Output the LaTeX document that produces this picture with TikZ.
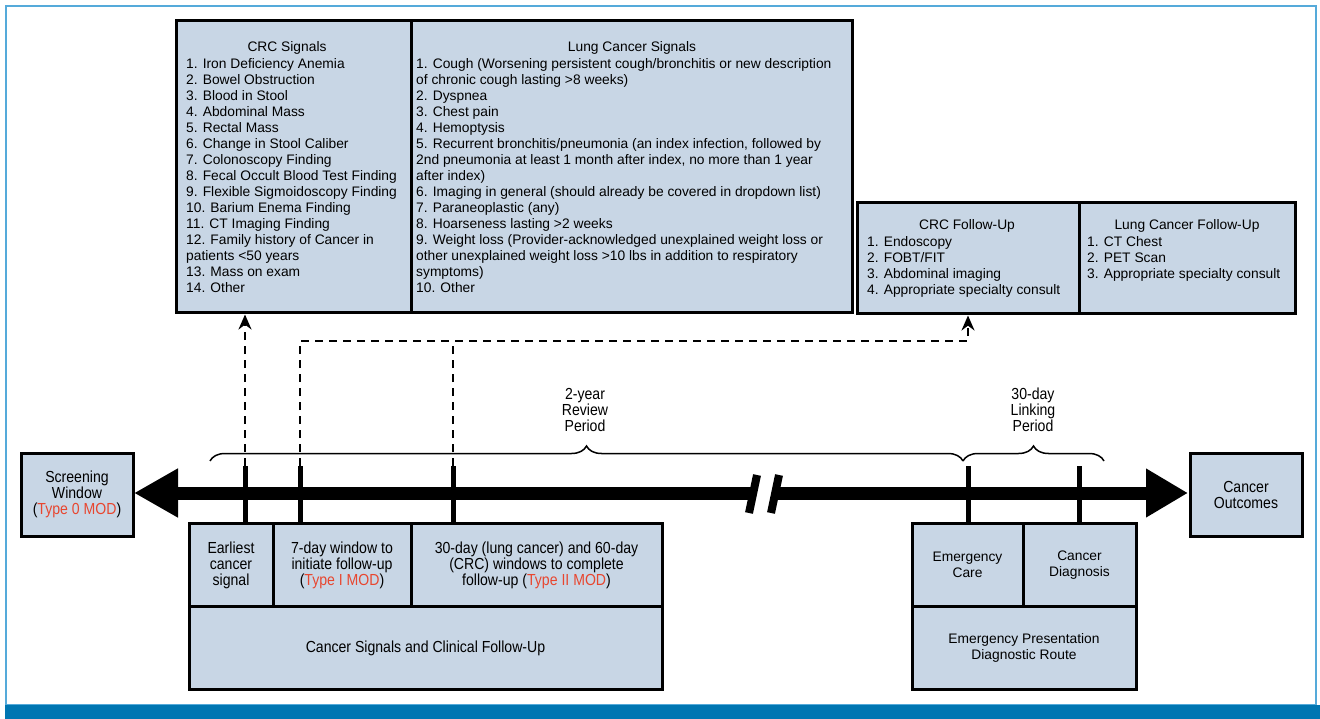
\documentclass[tikz,border=0pt]{standalone}
\usepackage{fontspec}
\setmainfont{Liberation Sans}
\newfontfamily\narrowfont{Liberation Sans}[FakeStretch=0.88]
\usetikzlibrary{arrows.meta,decorations.pathreplacing}

\definecolor{boxfill}{HTML}{C8D6E5}
\definecolor{modred}{HTML}{E8462F}
\definecolor{frameblue}{HTML}{55AADA}
\definecolor{barblue}{HTML}{0076B2}

\tikzset{
  box/.style={draw=black, line width=3pt, fill=boxfill, inner sep=0pt, align=center,
    font=\fontsize{13.8}{16}\selectfont},
  narrowbox/.style={box, font=\narrowfont\fontsize{16}{16}\selectfont},
  listtext/.style={anchor=north west, inner sep=0pt, align=left, font=\fontsize{13.8}{16}\selectfont},
  titletext/.style={inner sep=0pt, font=\fontsize{13.8}{16}\selectfont},
  narrowtext/.style={inner sep=0pt, align=center, font=\narrowfont\fontsize{16}{16}\selectfont},
  tickmark/.style={line width=5pt},
  dashline/.style={line width=2.2pt, dash pattern=on 8pt off 6pt},
  period/.style={decorate, decoration={brace, amplitude=15pt}, line width=1.5pt}
}
\newcommand{\mod}[1]{\textcolor{modred}{#1}}

\begin{document}
\begin{tikzpicture}[x=1pt,y=-1pt]
\useasboundingbox (0,0) rectangle (1320,719);

% frame and bottom bar
\draw[frameblue, line width=1.5pt] (6,6) rectangle (1316,705);
\fill[barblue] (5,705) rectangle (1320,719);

% signal lists
\node[box, minimum width=235, minimum height=292] (crc) at (293.5,167) {};
\node[box, minimum width=441, minimum height=292] (lung) at (631.5,167) {};
\node[titletext] (crctitle) at (287,48) {CRC Signals};
\node[titletext] (lungtitle) at (632,48) {Lung Cancer Signals};
\node[listtext] (crclist) at (186,58) {1. Iron Deficiency Anemia\\
2. Bowel Obstruction\\
3. Blood in Stool\\
4. Abdominal Mass\\
5. Rectal Mass\\
6. Change in Stool Caliber\\
7. Colonoscopy Finding\\
8. Fecal Occult Blood Test Finding\\
9. Flexible Sigmoidoscopy Finding\\
10. Barium Enema Finding\\
11. CT Imaging Finding\\
12. Family history of Cancer in\\
patients <50 years\\
13. Mass on exam\\
14. Other};
\node[listtext] (lunglist) at (416,58) {1. Cough (Worsening persistent cough/bronchitis or new description\\
of chronic cough lasting >8 weeks)\\
2. Dyspnea\\
3. Chest pain\\
4. Hemoptysis\\
5. Recurrent bronchitis/pneumonia (an index infection, followed by\\
2nd pneumonia at least 1 month after index, no more than 1 year\\
after index)\\
6. Imaging in general (should already be covered in dropdown list)\\
7. Paraneoplastic (any)\\
8. Hoarseness lasting >2 weeks\\
9. Weight loss (Provider-acknowledged unexplained weight loss or\\
other unexplained weight loss >10 lbs in addition to respiratory\\
symptoms)\\
10. Other};

% follow-up lists
\node[box, minimum width=222, minimum height=111] (crcfu) at (968,258.5) {};
\node[box, minimum width=216, minimum height=111] (lungfu) at (1187,258.5) {};
\node[titletext] (crcfutitle) at (967,226) {CRC Follow-Up};
\node[titletext] (lungfutitle) at (1187,226) {Lung Cancer Follow-Up};
\node[listtext] (crcfulist) at (867,236) {1. Endoscopy\\
2. FOBT/FIT\\
3. Abdominal imaging\\
4. Appropriate specialty consult};
\node[listtext] (lungfulist) at (1087,236) {1. CT Chest\\
2. PET Scan\\
3. Appropriate specialty consult};

% end boxes
\node[narrowbox, minimum width=112, minimum height=83] (screen) at (77,494.5) {Screening\\Window\\(\mod{Type 0 MOD})};
\node[narrowbox, minimum width=112, minimum height=83] (outcome) at (1246,494.5) {Cancer\\Outcomes};

% timeline
\coordinate (pastend) at (134,493);
\coordinate (futureend) at (1188,493);
\draw[line width=13pt, -{Triangle[length=44pt,width=46pt]}] (753,493) -- (pastend);
\draw[line width=13pt, -{Triangle[length=42pt,width=46pt]}] (775,493) -- (futureend);
\draw[line width=8pt] (757,475) -- (749,513);
\draw[line width=8pt] (779,475) -- (771,513);

% ticks
\coordinate (t1) at (245,466);
\coordinate (t2) at (300,466);
\coordinate (t3) at (453,466);
\coordinate (t4) at (968,466);
\coordinate (t5) at (1079,466);
\foreach \t in {t1,t2,t3,t4,t5}
  \draw[tickmark] (\t) -- ++(0,56);

% periods
\draw[period] (210,461) -- (963,461);
\draw[period] (963,461) -- (1104,461);
\node[narrowtext] (review) at (585,410) {2-year\\Review\\Period};
\node[narrowtext] (linking) at (1033,410) {30-day\\Linking\\Period};

% dashed links
\coordinate (bend) at (968,341);
\draw[dashline, -{Stealth[length=15pt,width=13pt]}] (t1) -- (t1 |- crc.south);
\draw[dashline, -{Stealth[length=15pt,width=13pt]}] (t2) |- (bend) -- (crcfu.south);
\draw[dashline] (t3) -- (t3 |- bend);

% care stages
\node[narrowbox, minimum width=84, minimum height=84] (earliest) at (231,565) {Earliest\\cancer\\signal};
\node[narrowbox, minimum width=138, minimum height=84] (sevenday) at (342,565) {7-day window to\\initiate follow-up\\(\mod{Type I MOD})};
\node[narrowbox, minimum width=251, minimum height=84] (thirtyday) at (536.5,565) {30-day (lung cancer) and 60-day\\(CRC) windows to complete\\follow-up (\mod{Type II MOD})};
\node[narrowbox, minimum width=473, minimum height=83] (signals) at (425.5,648) {Cancer Signals and Clinical Follow-Up};
\node[box, minimum width=111, minimum height=84] (emcare) at (967.5,565) {Emergency\\Care};
\node[box, minimum width=113, minimum height=84] (diagnosis) at (1079.5,565) {Cancer\\Diagnosis};
\node[box, minimum width=224, minimum height=83] (emroute) at (1024,648) {Emergency Presentation\\Diagnostic Route};
\end{tikzpicture}
\end{document}
